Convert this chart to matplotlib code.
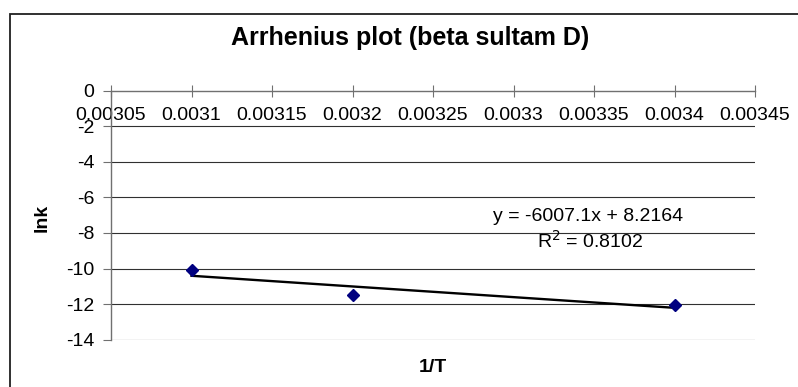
import matplotlib
matplotlib.use("Agg")
import matplotlib.pyplot as plt
from matplotlib.patches import Rectangle
import numpy as np

plt.rcParams['font.family'] = ['Liberation Sans', 'DejaVu Sans']

inv_T = [0.0031, 0.0032, 0.0034]
lnk = [-10.08, -11.5, -12.04]
slope = -6007.1
intercept = 8.2164
r2 = 0.8102
x_ticks = [0.00305, 0.0031, 0.00315, 0.0032, 0.00325, 0.0033, 0.00335, 0.0034, 0.00345]
x_tick_labels = ["0.00305", "0.0031", "0.00315", "0.0032", "0.00325", "0.0033", "0.00335", "0.0034", "0.00345"]
y_ticks = [0, -2, -4, -6, -8, -10, -12, -14]

W, H = 798, 387
fig = plt.figure(figsize=(W / 100, H / 100), dpi=100)
ax = fig.add_axes([111 / W, 1 - 339.7 / H, (755 - 111) / W, (339.7 - 90.7) / H])

# outer chart border
fig.patches.append(Rectangle((9.5 / W, -0.05), 1.1, 1 - 13.5 / H + 0.05, transform=fig.transFigure,
                             fill=False, edgecolor='#202020', linewidth=1.3))

ax.set_xlim(0.00305, 0.00345)
ax.set_ylim(-14, 0)

for yv in y_ticks[1:]:
    ax.axhline(yv, color='#303030', linewidth=0.8, zorder=1)

# trendline
xs = np.array([min(inv_T), max(inv_T)])
ax.plot(xs, slope * xs + intercept, color='black', linewidth=1.7, zorder=3)
ax.plot(inv_T, lnk, linestyle='none', marker='D', markersize=6, color='#000080', zorder=4)

for s in ['right', 'top']:
    ax.spines[s].set_visible(False)
ax.spines['bottom'].set_position(('data', 0))
ax.spines['bottom'].set_color('#707070')
ax.spines['left'].set_color('#707070')
ax.spines['bottom'].set_linewidth(1.0)
ax.spines['left'].set_linewidth(1.0)

ax.set_xticks(x_ticks)
ax.set_xticklabels(x_tick_labels)
ax.set_yticks(y_ticks)
ax.set_yticklabels([str(v) for v in y_ticks])
ax.tick_params(axis='x', direction='inout', length=8, color='#707070', labelsize=14, pad=8)
ax.tick_params(axis='y', direction='out', length=6, color='#707070', labelsize=14, pad=6)

fig.text(410 / W, 1 - 38.5 / H, "Arrhenius plot (beta sultam D)", ha='center', va='center',
         fontsize=18, fontweight='bold')
fig.text(433 / W, 1 - 368 / H, "1/T", ha='center', va='center', fontsize=14, fontweight='bold')
fig.text(42 / W, 1 - 218 / H, "lnk", ha='center', va='center', rotation=90, fontsize=14, fontweight='bold')

fig.text(588 / W, 1 - 217 / H, f"y = {slope}x + {intercept}", ha='center', va='center', fontsize=14)
fig.text(590 / W, 1 - 241 / H, f"R$^2$ = {r2:.4f}", ha='center', va='center', fontsize=14)

fig.savefig("out.png", dpi=100)
